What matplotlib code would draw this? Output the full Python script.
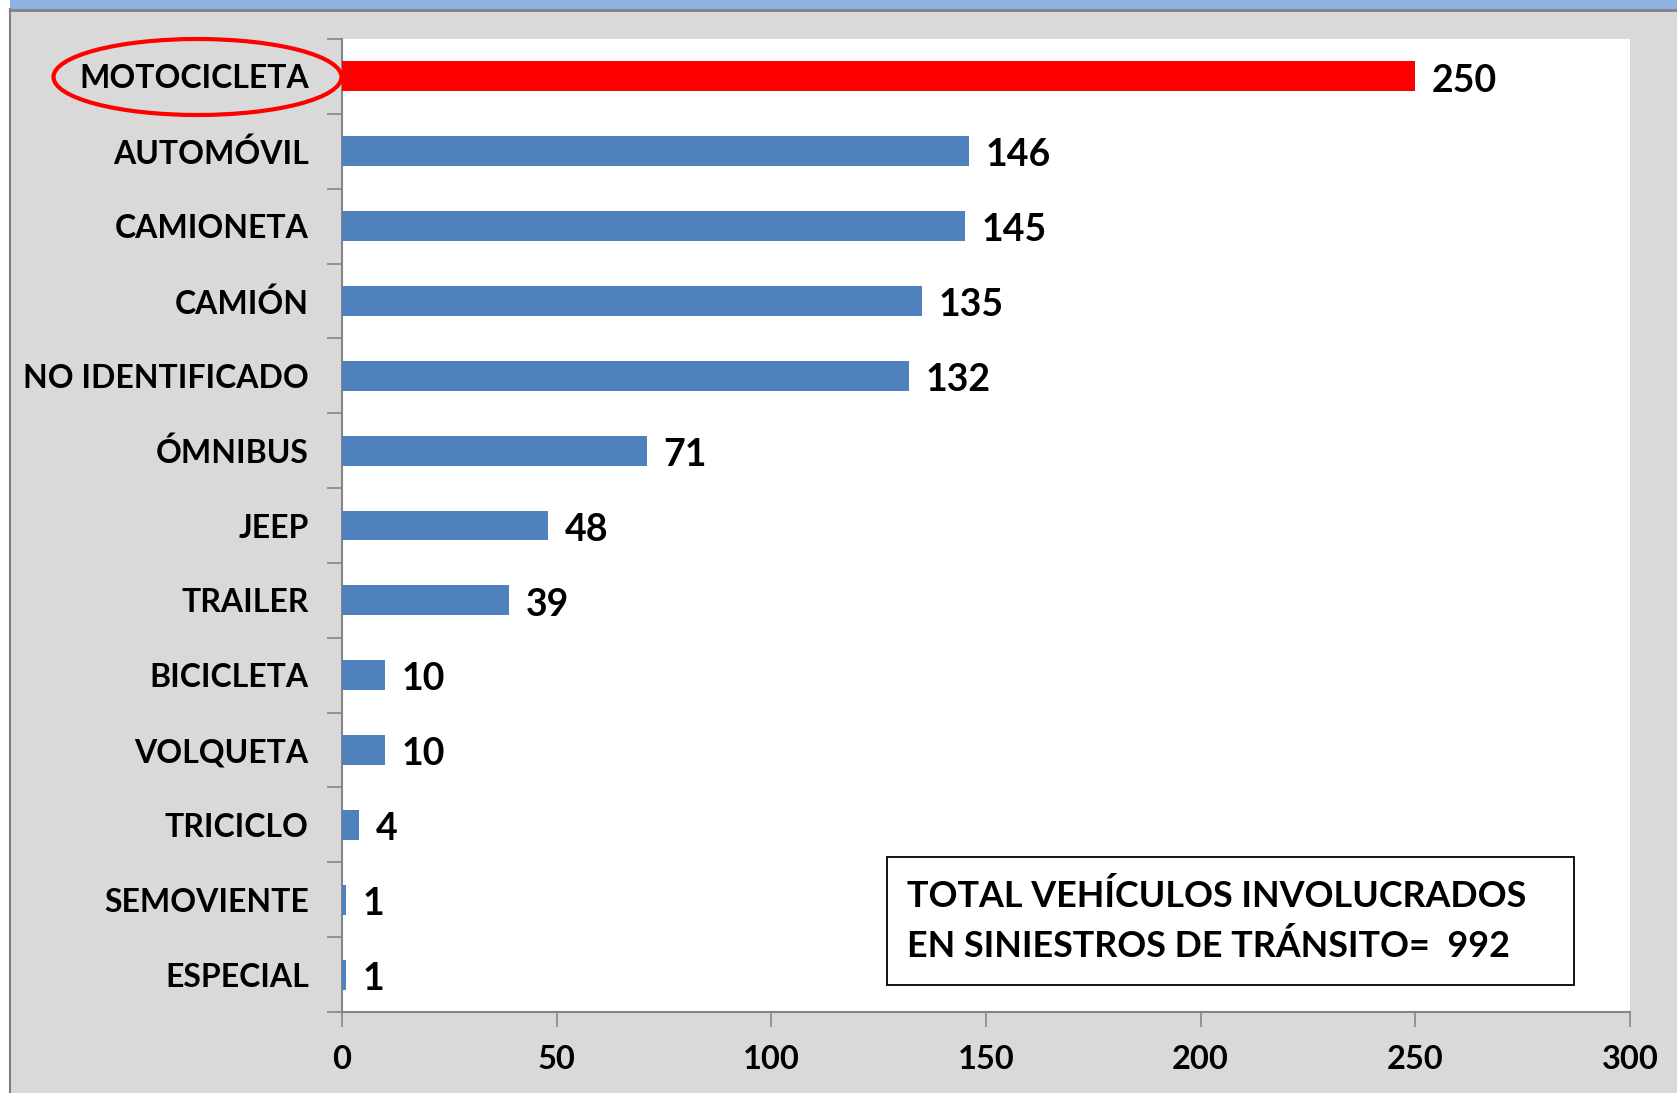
import matplotlib
matplotlib.use("Agg")
import matplotlib.pyplot as plt
from matplotlib.patches import Ellipse, Rectangle
from matplotlib.lines import Line2D

categories = ["MOTOCICLETA", "AUTOMÓVIL", "CAMIONETA", "CAMIÓN", "NO IDENTIFICADO",
              "ÓMNIBUS", "JEEP", "TRAILER", "BICICLETA", "VOLQUETA", "TRICICLO",
              "SEMOVIENTE", "ESPECIAL"]
values = [250, 146, 145, 135, 132, 71, 48, 39, 10, 10, 4, 1, 1]
highlight = "MOTOCICLETA"
xticks = [0, 50, 100, 150, 200, 250, 300]
total_text = "TOTAL VEHÍCULOS INVOLUCRADOS\nEN SINIESTROS DE TRÁNSITO=  992"

W, H = 1677, 1093
DPI = 100
plt.rcParams['font.family'] = ['Lato', 'DejaVu Sans']
fig = plt.figure(figsize=(W / DPI, H / DPI), dpi=DPI, facecolor="white")

# background frame
fig.patches.append(Rectangle((10 / W, 0), 1, 1, transform=fig.transFigure,
                             facecolor="#D9D9D9", edgecolor="none", zorder=-5))
fig.patches.append(Rectangle((10 / W, 1 - 9 / H), 1, 9 / H, transform=fig.transFigure,
                             facecolor="#8DB4E2", edgecolor="none", zorder=-4))
fig.lines.append(Line2D([10 / W, 1], [1 - 10 / H, 1 - 10 / H], transform=fig.transFigure,
                        color="#808080", lw=2, zorder=-3))
fig.lines.append(Line2D([9.5 / W, 9.5 / W], [0, 1 - 9 / H], transform=fig.transFigure,
                        color="#808080", lw=1.5, zorder=-3))

left, right, top, bottom = 342, 1630, 39, 1012
ax = fig.add_axes([left / W, 1 - bottom / H, (right - left) / W, (bottom - top) / H])
ax.set_zorder(2)
ax.set_facecolor("white")

ypos = list(range(len(categories)))
colors = ["#FF0000" if c == highlight else "#4F81BD" for c in categories]
ax.barh(ypos, values, height=0.4, color=colors, zorder=3)
ax.set_ylim(len(categories) - 0.5, -0.5)
ax.set_xlim(0, 300)

ax.set_yticks(ypos)
ax.set_yticklabels(categories, fontsize=23, fontweight="bold")
ax.tick_params(axis="y", which="major", length=0, pad=24)
ax.set_yticks([i - 0.5 for i in range(len(categories) + 1)], minor=True)
ax.tick_params(axis="y", which="minor", length=11, width=1.2, color="#868686", direction="out")

ax.set_xticks(xticks)
ax.set_xticklabels([str(t) for t in xticks], fontsize=23.5, fontweight="bold")
ax.tick_params(axis="x", length=11, width=1.2, color="#868686", direction="out", pad=13)

for s in ["top", "right"]:
    ax.spines[s].set_visible(False)
for s in ["left", "bottom"]:
    ax.spines[s].set_color("#868686")
    ax.spines[s].set_linewidth(1.5)

for y, v in zip(ypos, values):
    ax.annotate(str(v), (v, y), xytext=(12, -3), textcoords="offset points",
                ha="left", va="center", fontsize=27, fontweight="bold")

# total box
bx0, by0, bx1, by1 = 887, 857, 1574, 985
fig.patches.append(Rectangle((bx0 / W, 1 - by1 / H), (bx1 - bx0) / W, (by1 - by0) / H,
                             transform=fig.transFigure, facecolor="white",
                             edgecolor="black", lw=1.3, zorder=5))
fig.text(907 / W, 1 - 921 / H, total_text, fontsize=25.8, fontweight="bold",
         ha="left", va="center", linespacing=1.55, zorder=6)

# highlight ellipse around label
fig.patches.append(Ellipse(((53 + 342) / 2 / W, 1 - 77 / H), 288 / W, 76 / H,
                           transform=fig.transFigure, facecolor="none",
                           edgecolor="#FF0000", lw=3, zorder=6))

fig.savefig("out.png", dpi=DPI, facecolor=fig.get_facecolor())
